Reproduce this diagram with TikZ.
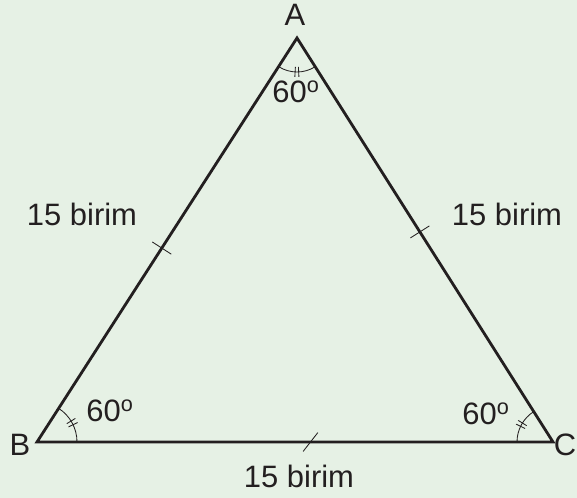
\documentclass[tikz,border=0pt]{standalone}
\usepackage{fontspec}
\setmainfont{Liberation Sans}
\usepackage{xcolor}
\usetikzlibrary{calc}
\definecolor{bgreen}{HTML}{E6F1E5}
\definecolor{ink}{HTML}{231F20}

\begin{document}
\begin{tikzpicture}[
  x=0.025cm, y=0.025cm,
  side/.style={ink, line width=2pt, line join=miter},
  thin mark/.style={ink, line width=0.6pt},
  anglearc/.style={ink, line width=0.6pt},
  lbl/.style={text=ink, inner sep=0pt},
  font=\fontsize{22}{26}\selectfont
]
\fill[bgreen] (0,0) rectangle (577,498);
\useasboundingbox (0,0) rectangle (577,498);

\coordinate (A) at (297,460);
\coordinate (B) at (37,56);
\coordinate (C) at (553,56);

% triangle
\draw[side] (A) -- (B) -- (C) -- cycle;

% vertex names
\node[lbl] (nameA) at (295,483) {A};
\node[lbl] (nameB) at (20,53) {B};
\node[lbl] (nameC) at (565,53) {C};

% side lengths
\node[lbl] (sideAB) at (82,284) {15 birim};
\node[lbl] (sideAC) at (507,284) {15 birim};
\node[lbl] (sideBC) at (299,22) {15 birim};

% equal side ticks
\coordinate (mAB) at ($(A)!0.52!(B)$);
\coordinate (mAC) at ($(A)!0.48!(C)$);
\coordinate (mBC) at ($(B)!0.53!(C)$);
\draw[thin mark] ($(mAB)!8pt!90:(B)$) -- ($(mAB)!8pt!-90:(B)$);
\draw[thin mark] ($(mAC)!8pt!90:(C)$) -- ($(mAC)!8pt!-90:(C)$);
\draw[thin mark] ($(mBC)!8.5pt!52:(C)$) -- ($(mBC)!8.5pt!-128:(C)$);

% angles
\draw[anglearc] ([shift={(237.2:34)}]A) arc[start angle=237.2, end angle=302.4, radius=34];
\draw[thin mark] ($(A)+(266.8:29)$) -- ($(A)+(266.8:39)$);
\draw[thin mark] ($(A)+(272.8:29)$) -- ($(A)+(272.8:39)$);
\draw[anglearc] ([shift={(0:40)}]B) arc[start angle=0, end angle=57.2, radius=40];
\draw[thin mark] ($(B)+(25.6:35)$) -- ($(B)+(25.6:45)$);
\draw[thin mark] ($(B)+(31.6:35)$) -- ($(B)+(31.6:45)$);
\draw[anglearc] ([shift={(122.4:36)}]C) arc[start angle=122.4, end angle=180, radius=36];
\draw[thin mark] ($(C)+(148.2:31)$) -- ($(C)+(148.2:41)$);
\draw[thin mark] ($(C)+(154.2:31)$) -- ($(C)+(154.2:41)$);

\node[lbl] (angA) at (296,406) {60\textsuperscript{o}};
\node[lbl] (angB) at (110,87) {60\textsuperscript{o}};
\node[lbl] (angC) at (486,84) {60\textsuperscript{o}};
\end{tikzpicture}
\end{document}
